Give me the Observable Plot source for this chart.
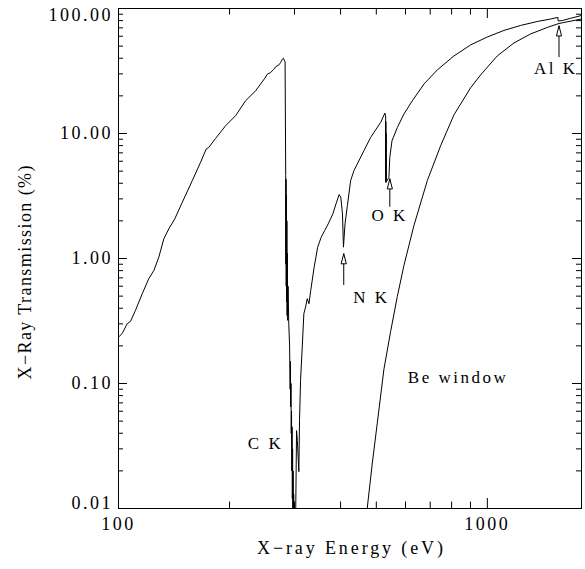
<!DOCTYPE html>
<html><head><meta charset="utf-8">
<script src="https://cdn.jsdelivr.net/npm/d3@7"></script>
<script src="https://cdn.jsdelivr.net/npm/@observablehq/plot@0.6"></script>
<style>
html,body{margin:0;padding:0;background:#fff;}
#chart svg text{letter-spacing:2.5px;}
</style></head><body><div id="chart"></div>
<script>
// Filter transmission curve (energy in eV, transmission in %)
const mainEnergy = [100,102.3,105.6,107.8,111.2,116.0,120.8,124.7,128.6,132.7,136.9,142.1,148.9,158.5,166.9,172.9,175.7,183.3,195.1,207.7,221.0,235.3,249.4,253.2,258.4,263.8,266.6,272.2,275.1,278.0,279.8,281.2,282.9,
284.0,284.3,284.6,284.9,285.3,285.7,286.1,286.5,287.0,287.5,288.2,289.5,291.0,292.0,292.5,293.0,293.5,294.0,294.5,295.0,295.5,296.0,296.5,297.0,297.5,298.0,298.5,299.0,300.0,301.0,302.0,
303.9,305.4,308.3,309.6,311.6,314.9,318.1,321.5,324.9,328.4,332.0,339.2,346.7,354.4,362.2,370.3,381.2,388.7,396.5,400.6,404.8,407.3,411.3,417.4,426.0,434.8,462.8,482.6,492.6,513.6,527.6,530.0,
530.3,530.6,531.0,531.4,532.0,541.0,543.9,551.4,570.1,594.0,626.0,673.9,731.8,812.0,900.8,1000,1109,1231,1366,1485,1548,1552,1556,1600,1682,1800];
const mainTrans = [0.235,0.251,0.301,0.314,0.385,0.523,0.689,0.802,1.024,1.436,1.726,2.075,2.815,4.197,5.875,7.516,7.74,9.13,11.53,13.87,18.26,21.95,27.71,29.83,30.72,32.70,34.11,35.39,36.92,39.29,40.02,38.79,37.4,
4.6,0.9,4.3,0.6,3.2,0.45,2.0,0.35,1.1,0.32,0.6,0.30,0.2,0.09,0.15,0.065,0.1,0.04,0.06,0.02,0.045,0.012,0.03,0.008,0.02,0.005,0.013,0.004,0.009,0.003,0.007,
0.042,0.035,0.0197,0.0509,0.106,0.196,0.362,0.409,0.477,0.435,0.555,0.852,1.231,1.479,1.673,1.892,2.274,2.733,3.246,3.087,2.274,1.231,1.892,2.65,4.197,5.042,7.28,9.30,10.19,12.25,14.56,13.85,
4.2,12.5,4.05,10.0,4.1,4.46,6.44,8.75,11.17,14.30,18.26,24.95,32.28,41.75,51.1,59.2,66.75,73.2,78.7,82.4,84.7,85.5,79.5,80.2,83.5,87.9];

// Be window transmission
const beEnergy = [472,487.7,503.0,524.3,546.8,570.1,594.0,632.3,687.5,747.0,812.0,900.8,958.9,1064,1181,1310,1454,1564,1800];
const beTrans = [0.0098,0.0231,0.0482,0.130,0.261,0.497,0.879,1.834,4.20,7.98,14.11,23.19,29.44,41.75,53.03,62.56,70.55,75.9,82.4];

// Axis ticks
const xMajorTicks = [100, 1000];
const xMajorLabels = ["100", "1000"];
const xMinorTicks = [200, 300, 400, 500, 600, 700, 800, 900];
const yMajorTicks = [0.01, 0.1, 1, 10, 100];
const yMajorLabels = ["0.01", "0.10", "1.00", "10.00", "100.00"];
const yMinorTicks = [0.02,0.03,0.04,0.05,0.06,0.07,0.08,0.09,0.2,0.3,0.4,0.5,0.6,0.7,0.8,0.9,2,3,4,5,6,7,8,9,20,30,40,50,60,70,80,90];

// Annotations
const noteLabels = ["C K", "N K", "O K", "Al K", "Be window"];
const noteEnergy = [250.4, 485, 543.6, 1532, 833];
const noteTrans = [0.033, 0.491, 2.19, 33.2, 0.1122];
const arrowEnergy = [408, 544, 1564];
const arrowTipT = [1.09, 4.33, 72.5];
const arrowTailT = [0.609, 2.57, 40.5];

const xTitle = "X\u2212ray Energy (eV)";
const yTitle = "X\u2212Ray Transmission (%)";

const mainData = mainEnergy.map((e, i) => ({E: e, T: mainTrans[i]}));
const beData = beEnergy.map((e, i) => ({E: e, T: beTrans[i]}));
const notes = noteLabels.map((t, i) => ({label: t, E: noteEnergy[i], T: noteTrans[i]}));
const arrows = arrowEnergy.map((e, i) => ({E: e, tip: arrowTipT[i], tail: arrowTailT[i]}));

const W = 585, HT = 569, mL = 118, mR = 4, mT = 8, mB = 61;
const PW = W - mL - mR, PH = HT - mT - mB;

const headSymbol = {draw(ctx) { ctx.moveTo(0, -5); ctx.lineTo(2.6, 5); ctx.lineTo(-2.6, 5); ctx.closePath(); }};

const chart = Plot.plot({
  width: W, height: HT,
  marginLeft: mL, marginRight: mR, marginTop: mT, marginBottom: mB,
  x: {type: "log", domain: [100, 1800], axis: null},
  y: {type: "log", domain: [0.01, 100], axis: null},
  style: {fontFamily: "'Liberation Serif', 'Times New Roman', serif", fontSize: "18px", background: "white", color: "black"},
  marks: [
    Plot.line(beData, {x: "E", y: "T", stroke: "black", strokeWidth: 1, clip: true}),
    Plot.line(mainData, {x: "E", y: "T", stroke: "black", strokeWidth: 1, clip: true}),
    Plot.frame({stroke: "black", strokeWidth: 1}),
    // x ticks (inward, bottom and top)
    Plot.ruleX(xMinorTicks, {x: d => d, insetTop: PH - 6.5, stroke: "black"}),
    Plot.ruleX(xMinorTicks, {x: d => d, insetBottom: PH - 6.5, stroke: "black"}),
    Plot.ruleX(xMajorTicks, {x: d => d, insetTop: PH - 10, stroke: "black"}),
    Plot.ruleX(xMajorTicks, {x: d => d, insetBottom: PH - 10, stroke: "black"}),
    // y ticks (inward, left and right)
    Plot.ruleY(yMinorTicks, {y: d => d, insetRight: PW - 5, stroke: "black"}),
    Plot.ruleY(yMinorTicks, {y: d => d, insetLeft: PW - 5, stroke: "black"}),
    Plot.ruleY(yMajorTicks, {y: d => d, insetRight: PW - 9, stroke: "black"}),
    Plot.ruleY(yMajorTicks, {y: d => d, insetLeft: PW - 9, stroke: "black"}),
    // tick labels
    Plot.text(xMajorTicks, {x: d => d, text: (d, i) => xMajorLabels[i], frameAnchor: "bottom", dy: 21, fill: "black"}),
    Plot.text(yMajorTicks, {filter: d => d > 0.01 && d < 100, y: d => d, text: d => yMajorLabels[yMajorTicks.indexOf(d)], frameAnchor: "left", textAnchor: "end", dx: -5.5, fill: "black"}),
    Plot.text(yMajorTicks, {filter: d => d === 100, y: d => d, text: d => yMajorLabels[yMajorTicks.indexOf(d)], frameAnchor: "left", textAnchor: "end", dx: -5.5, dy: 6.5, fill: "black"}),
    Plot.text(yMajorTicks, {filter: d => d === 0.01, y: d => d, text: d => yMajorLabels[yMajorTicks.indexOf(d)], frameAnchor: "left", textAnchor: "end", dx: -5.5, dy: -5.5, fill: "black"}),
    // axis titles
    Plot.text([xTitle], {text: d => d, frameAnchor: "bottom", dy: 45, fill: "black"}),
    Plot.text([yTitle], {text: d => d, frameAnchor: "left", textAnchor: "middle", rotate: -90, dx: -93, dy: 14, fill: "black"}),
    // annotations
    Plot.ruleX(arrows, {x: "E", y1: "tail", y2: "tip", stroke: "black", strokeWidth: 1}),
    Plot.dot(arrows, {x: "E", y: "tip", symbol: headSymbol, fill: "white", stroke: "black", strokeWidth: 1, dy: 5}),
    Plot.text(notes, {x: "E", y: "T", text: "label", fill: "black", fontSize: 17})
  ]
});
document.getElementById("chart").appendChild(chart);
// fit the two axis titles to the lengths seen in the reference
d3.select(chart).selectAll("text").each(function() {
  const t = this.textContent;
  if (t === yTitle || t === xTitle) {
    d3.select(this)
      .style("letter-spacing", "0px")
      .attr("textLength", t === yTitle ? 214 : 186)
      .attr("lengthAdjust", "spacing");
  }
});
</script>
</body></html>
